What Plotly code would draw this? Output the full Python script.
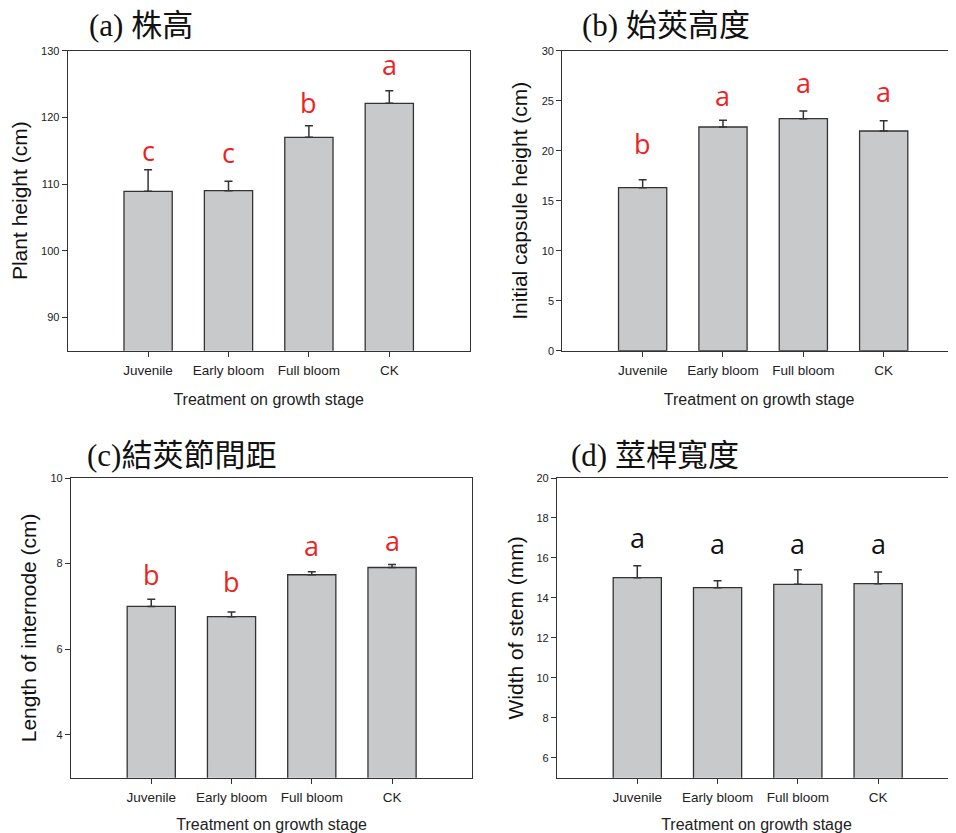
import plotly.graph_objects as go

categories = ["Juvenile", "Early bloom", "Full bloom", "CK"]

# (a) plant height
height_mean = [108.9, 109.0, 117.0, 122.1]
height_err = [3.25, 1.4, 1.75, 1.9]
height_letters = ["c", "c", "b", "a"]
height_letter_y = [115.1, 114.75, 122.3, 127.9]

# (b) initial capsule height
capsule_mean = [16.3, 22.37, 23.2, 21.97]
capsule_err = [0.8, 0.67, 0.77, 1.03]
capsule_letters = ["b", "a", "a", "a"]
capsule_letter_y = [20.7, 25.55, 26.8, 25.9]

# (c) internode length
internode_mean = [7.0, 6.76, 7.74, 7.91]
internode_err = [0.17, 0.11, 0.07, 0.07]
internode_letters = ["b", "b", "a", "a"]
internode_letter_y = [7.74, 7.58, 8.43, 8.54]

# (d) stem width
stem_mean = [15.01, 14.51, 14.68, 14.71]
stem_err = [0.6, 0.35, 0.73, 0.59]
stem_letters = ["a", "a", "a", "a"]
stem_letter_y = [17.03, 16.7, 16.7, 16.7]

OFF = 8  # page body margin
W, H = 956 - OFF, 833 - OFF

def px(x):
    return min(1.0, (x - OFF) / W)

def py(y):
    return 1 - (y - OFF) / H

panels = [
    dict(mean=height_mean, err=height_err, letters=height_letters, ly=height_letter_y,
         lcolor="#ee2222", title="(a) 株高", ytitle="Plant height (cm)",
         yrange=[85, 130], dtick=10, xr=[-1, 4], mirror_y=True,
         xd=[px(67.7), px(469.7)], yd=[py(350.7), py(50.7)],
         tx=87, ty=25, ystand=10),
    dict(mean=capsule_mean, err=capsule_err, letters=capsule_letters, ly=capsule_letter_y,
         lcolor="#ee2222", title="(b) 始莢高度", ytitle="Initial capsule height (cm)",
         yrange=[0, 30], dtick=5, xr=[-1, 3.9], mirror_y=False,
         xd=[px(562.3), 1.0], yd=[py(350.7), py(50.7)],
         tx=580, ty=25, ystand=8),
    dict(mean=internode_mean, err=internode_err, letters=internode_letters, ly=internode_letter_y,
         lcolor="#ee2222", title="(c)結莢節間距", ytitle="Length of internode (cm)",
         yrange=[3, 10], dtick=2, xr=[-1, 4], mirror_y=True,
         xd=[px(71), px(472.3)], yd=[py(777.7), py(478)],
         tx=85, ty=455, ystand=8),
    dict(mean=stem_mean, err=stem_err, letters=stem_letters, ly=stem_letter_y,
         lcolor="#111111", title="(d) 莖桿寬度", ytitle="Width of stem (mm)",
         yrange=[5, 20], dtick=2, xr=[-1, 3.97], mirror_y=False,
         xd=[px(557), 1.0], yd=[py(777.7), py(478)],
         tx=569, ty=455, ystand=7),
]

fig = go.Figure()
annotations = []
layout = {}

for i, p in enumerate(panels):
    n = "" if i == 0 else str(i + 1)
    xa, ya = "x" + n, "y" + n
    fig.add_trace(go.Bar(
        x=list(range(len(categories))), y=p["mean"],
        width=0.6,
        marker=dict(color="#c8c9ca", line=dict(color="#333333", width=1.3)),
        error_y=dict(type="data", array=p["err"], symmetric=False,
                     arrayminus=[0] * 4, color="#333333", thickness=1.5, width=4),
        xaxis=xa, yaxis=ya, showlegend=False,
    ))
    layout["xaxis" + n] = dict(
        domain=p["xd"], anchor=ya, range=p["xr"], automargin=False,
        tickmode="array", tickvals=list(range(len(categories))), ticktext=categories,
        ticks="outside", ticklen=5, tickcolor="#333333", tickwidth=1,
        ticklabelstandoff=2,
        showline=True, linecolor="#333333", linewidth=1.2, mirror=True,
        showgrid=False, zeroline=False,
        tickfont=dict(family="Liberation Sans, Arial", size=13.5, color="#222222"),
        title=dict(text="Treatment on growth stage", standoff=16,
                   font=dict(family="Liberation Sans, Arial", size=16, color="#222222")),
    )
    layout["yaxis" + n] = dict(
        domain=p["yd"], anchor=xa, range=p["yrange"], dtick=p["dtick"], automargin=False,
        ticks="outside", ticklen=5, tickcolor="#333333", tickwidth=1,
        showline=True, linecolor="#333333", linewidth=1.2, mirror=p["mirror_y"],
        showgrid=False, zeroline=False,
        tickfont=dict(family="Liberation Sans, Arial", size=11, color="#222222"),
        title=dict(text=p["ytitle"], standoff=p["ystand"],
                   font=dict(family="Liberation Sans, Arial", size=21, color="#111111")),
    )
    for j, (lt, ly) in enumerate(zip(p["letters"], p["ly"])):
        annotations.append(dict(
            x=j, y=ly, xref=xa, yref=ya, text=lt, showarrow=False,
            font=dict(family="Open Sans, Liberation Sans", size=27, color=p["lcolor"]),
            xanchor="center", yanchor="middle",
        ))
    annotations.append(dict(
        x=px(p["tx"]), y=py(p["ty"]), xref="paper", yref="paper",
        text=p["title"], showarrow=False, xanchor="left", yanchor="middle",
        font=dict(family="Liberation Serif, Noto Sans CJK TC", size=31, color="#111111"),
    ))

fig.update_layout(
    width=W, height=H,
    margin=dict(l=0, r=0, t=0, b=0),
    paper_bgcolor="white", plot_bgcolor="white",
    annotations=annotations,
    **layout,
)

fig.write_html("out.html")
